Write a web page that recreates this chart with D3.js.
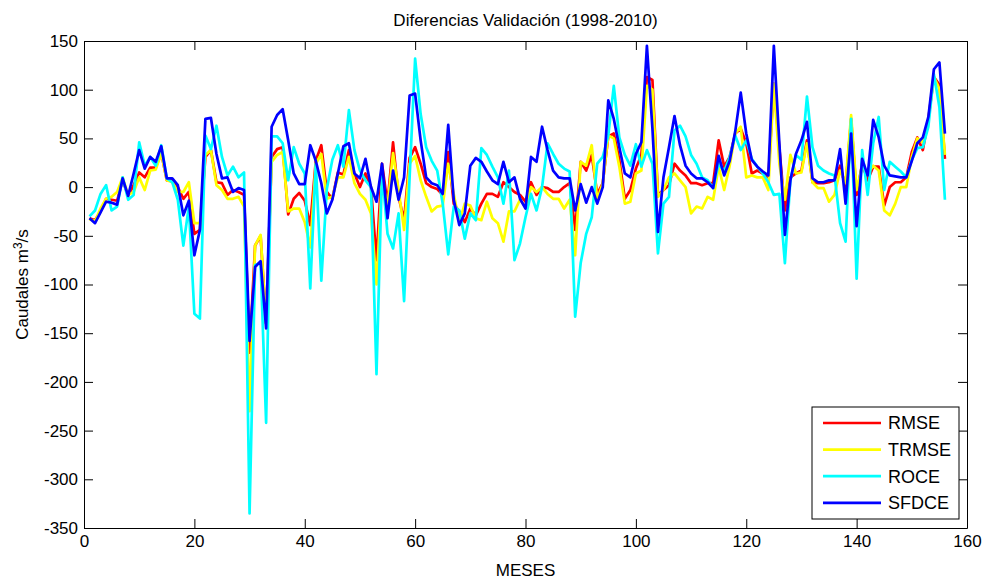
<!DOCTYPE html>
<html>
<head>
<meta charset="utf-8">
<script src="https://cdn.jsdelivr.net/npm/d3@7"></script>
<style>
  body { margin: 0; background: #fff; }
  svg text { font-family: "Liberation Sans", Arial, sans-serif; fill: #000; }
</style>
</head>
<body>
<div id="container"></div>
<script>
/* DATA: monthly differences, months 1..156 */
const meses = d3.range(1, 157)

const rmse = [
  -32, -34, -25, -12, -13, -14, 7, -9, 2, 15, 10, 20, 20, 35, 7, 7, 0, -12, -5, -48,
  -44, 31, 38, 5, 4, -8, -3, -5, -8, -170, -60, -50, -140, 31, 39, 41, -28, -12, -6, -14,
  -39, 27, 43, -5, -12, 15, 13, 38, 14, 0, 14, 0, -75, 24, -17, 46, -10, -34, 30, 41,
  24, 4, 0, -2, -8, 36, -17, -25, -36, -22, -29, -17, -7, -7, -10, 5, 0, -5, -8, -15,
  5, -8, 0, -1, -5, -5, 0, 4, -44, 26, 17, 33, -7, 4, 52, 55, 28, -12, -3, 19,
  33, 113, 110, -8, -3, 2, 24, 17, 12, 4, 4, 2, 4, 4, 48, 21, 31, 55, 60, 45,
  14, 17, 14, 10, 106, 40, -24, 10, 14, 17, 48, 5, 4, 4, 5, 7, 22, 0, 70, -8,
  24, 7, 21, 21, -19, 0, 5, 5, 10, 36, 51, 38, 70, 113, 105, 29
]

const trmse = [
  -33, -35, -22, -12, -10, -5, 10, -8, -5, 10, -3, 17, 18, 35, 7, 5, -5, -5, 5, -37,
  -37, 33, 38, 2, -3, -12, -12, -10, -20, -230, -60, -49, -140, 26, 33, 36, -25, -22, -22, -36,
  -62, 24, 34, -12, -10, 10, 10, 31, 4, -7, -13, -27, -100, 7, -20, 35, -3, -44, 24, 32,
  7, -10, -25, -20, -19, 24, -7, -36, -17, -19, -32, -34, -15, -32, -37, -56, -25, -25, -13, -20,
  0, -5, 0, -7, -12, -12, -22, -13, -70, 26, 22, 43, -13, 4, 53, 50, 21, -17, -15, 14,
  17, 104, 100, -10, -3, 10, 14, 7, 0, -27, -20, -22, -10, -13, 21, -3, 22, 55, 62, 10,
  12, 10, 10, -3, 106, 24, -13, 33, 14, 15, 45, 5, -1, -1, -15, -8, 17, 4, 74, -3,
  21, 14, 22, 17, -24, -29, -17, 0, 0, 31, 50, 46, 69, 113, 101, 33
]

const roce = [
  -30, -24, -7, 2, -24, -20, 10, -13, -8, 46, 22, 31, 22, 43, 9, 5, -13, -60, -20, -130,
  -135, 53, 39, 63, 31, 12, 21, 10, 15, -335, -80, -78, -242, 52, 52, 45, 7, 41, 24, 14,
  -104, 24, -96, -2, 28, 43, 21, 79, 38, 17, 7, 0, -192, 17, -48, -63, -27, -117, 10, 132,
  75, 41, 27, 17, -17, -69, -20, -24, -53, -27, -34, 40, 33, 21, 10, -17, 17, -75, -58, -31,
  -7, -24, 0, 45, 34, 24, 19, 16, -133, -78, -48, -31, 24, 31, 53, 104, 51, 33, 22, 44,
  21, 38, 24, -68, -17, -10, 58, 63, 52, 33, 24, 10, 7, -1, 24, 16, 31, 53, 38, 48,
  29, 21, 14, 5, -8, -7, -78, 7, 33, 28, 93, 41, 22, 17, 14, 12, -37, -56, 70, -94,
  38, -8, 45, 72, -3, 26, 21, 16, 10, 28, 40, 41, 62, 116, 82, -13
]

const sfdce = [
  -32, -37, -26, -15, -16, -18, 9, -9, 14, 38, 19, 31, 26, 42, 9, 9, 2, -29, -14, -70,
  -44, 70, 71, 34, 9, 10, -5, -1, -3, -158, -82, -76, -145, 62, 74, 80, 48, 14, 3, 3,
  43, 27, 4, -27, -13, 14, 42, 45, 14, 9, 29, 0, -15, 24, -32, 17, -13, 10, 94, 96,
  48, 10, 4, 2, -7, 64, -13, -39, -27, 22, 30, 26, 16, 7, 3, 26, 5, 10, -12, -22,
  31, 26, 62, 38, 17, 10, 9, 9, -24, 3, -16, 0, -17, 0, 89, 70, 41, 14, 10, 34,
  46, 145, 60, -46, 10, 41, 73, 43, 22, 14, 9, 9, 5, -1, 32, 12, 27, 57, 97, 55,
  28, 21, 16, 12, 145, 45, -49, 7, 34, 48, 67, 9, 5, 5, 7, 7, 39, -17, 55, -40,
  29, 12, 69, 51, 22, 12, 11, 10, 10, 27, 45, 51, 72, 121, 128, 55
]

const seriesNames = ["RMSE", "TRMSE", "ROCE", "SFDCE"]
const seriesColors = ["#ff0000", "#ffff00", "#00ffff", "#0000ff"]
const xTicks = [0, 20, 40, 60, 80, 100, 120, 140, 160]
const yTicks = [150, 100, 50, 0, -50, -100, -150, -200, -250, -300, -350]

/* CONSTANTS */
const width = 991, height = 581
const margin = { top: 41, right: 24, bottom: 53, left: 84 }
const tick = 9
const fontSize = 17

const svg = d3.select("#container").append("svg")
  .attr("width", width)
  .attr("height", height)

const xScale = d3.scaleLinear()
  .domain([0, 160])
  .range([margin.left, width - margin.right])

const yScale = d3.scaleLinear()
  .domain([-350, 150])
  .range([height - margin.bottom, margin.top])

/* LINES (drawn first so the frame sits on top) */
const table = [rmse, trmse, roce, sfdce].map((vals, i) => ({
  name: seriesNames[i],
  color: seriesColors[i],
  values: vals.map((v, j) => ({ x: meses[j], y: v }))
}))

const lineGen = d3.line()
  .x(d => xScale(d.x))
  .y(d => yScale(d.y))

svg.append("g")
  .selectAll("path")
  .data(table)
  .join("path")
  .attr("fill", "none")
  .attr("stroke", d => d.color)
  .attr("stroke-width", 2.7)
  .attr("stroke-linejoin", "round")
  .attr("d", d => lineGen(d.values))

/* AXES - MATLAB style, ticks pointing inward on all four sides */
const plain = d => String(d) /* hyphen minus, not the unicode minus d3 uses */

const styleAxis = g => {
  g.selectAll("text").style("font-size", fontSize + "px").attr("fill", "#000")
    .style("font-family", "'Liberation Sans', Arial, sans-serif")
  g.selectAll("line").attr("stroke", "#000")
  g.select(".domain").attr("stroke", "#000")
}

svg.append("g")
  .attr("transform", `translate(0,${height - margin.bottom})`)
  .call(d3.axisBottom(xScale).tickValues(xTicks).tickFormat(plain).tickSizeInner(-tick).tickSizeOuter(0).tickPadding(7))
  .call(styleAxis)

svg.append("g")
  .attr("transform", `translate(0,${margin.top})`)
  .call(d3.axisTop(xScale).tickValues(xTicks).tickSizeInner(-tick).tickSizeOuter(0).tickFormat(""))
  .call(styleAxis)

svg.append("g")
  .attr("transform", `translate(${margin.left},0)`)
  .call(d3.axisLeft(yScale).tickValues(yTicks).tickFormat(plain).tickSizeInner(-tick).tickSizeOuter(0).tickPadding(6))
  .call(styleAxis)

svg.append("g")
  .attr("transform", `translate(${width - margin.right},0)`)
  .call(d3.axisRight(yScale).tickValues(yTicks).tickSizeInner(-tick).tickSizeOuter(0).tickFormat(""))
  .call(styleAxis)

/* TITLE AND LABELS */
const cx = (margin.left + width - margin.right) / 2

svg.append("text")
  .attr("x", cx)
  .attr("y", 26)
  .attr("text-anchor", "middle")
  .style("font-size", fontSize + "px")
  .text("Diferencias Validación (1998-2010)")

svg.append("text")
  .attr("x", cx)
  .attr("y", 576)
  .attr("text-anchor", "middle")
  .style("font-size", fontSize + "px")
  .text("MESES")

const yLab = svg.append("text")
  .attr("transform", `translate(28,${(margin.top + height - margin.bottom) / 2}) rotate(-90)`)
  .attr("text-anchor", "middle")
  .style("font-size", fontSize + "px")
yLab.append("tspan").text("Caudales m")
yLab.append("tspan").attr("dy", -6).style("font-size", "12px").text("3")
yLab.append("tspan").attr("dy", 6).text("/s")

/* LEGEND */
const legend = svg.append("g").attr("transform", "translate(812,407)")

legend.append("rect")
  .attr("width", 147)
  .attr("height", 112)
  .attr("fill", "#fff")
  .attr("stroke", "#000")

const rows = legend.selectAll("g.row")
  .data(table)
  .join("g")
  .attr("class", "row")
  .attr("transform", (d, i) => `translate(0,${16 + i * 26.6})`)

rows.append("line")
  .attr("x1", 11).attr("x2", 69)
  .attr("stroke", d => d.color)
  .attr("stroke-width", 2.7)

rows.append("text")
  .attr("x", 76)
  .attr("dy", "0.36em")
  .style("font-size", "18px")
  .text(d => d.name)
</script>
</body>
</html>
